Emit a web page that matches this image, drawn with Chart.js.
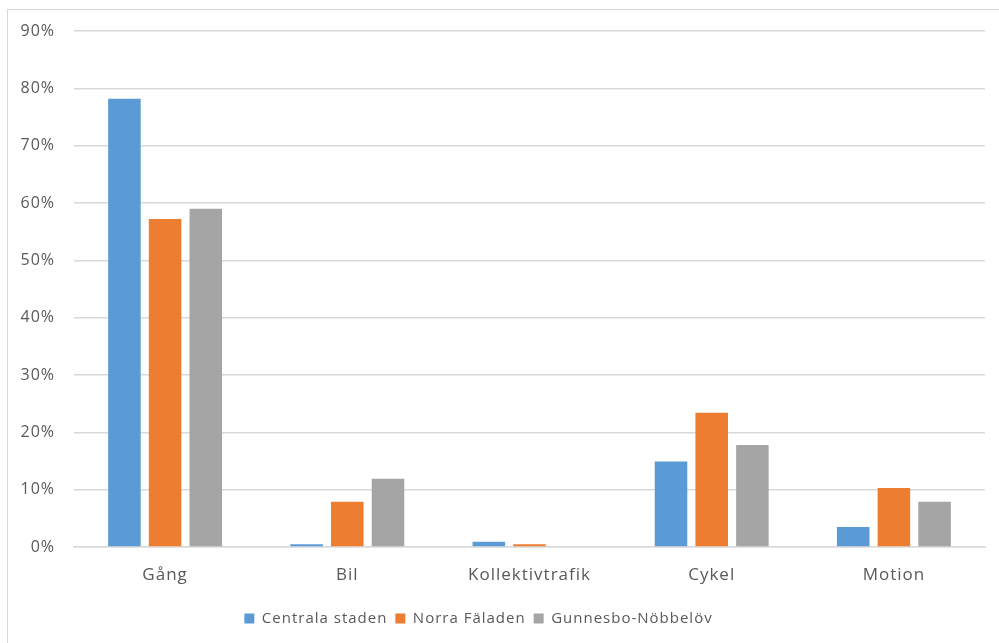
<!DOCTYPE html>
<html>
<head>
<meta charset="utf-8">
<script src="https://cdn.jsdelivr.net/npm/chart.js@4/dist/chart.umd.min.js"></script>
<style>
  html, body { margin: 0; padding: 0; background: #fff; }
  #wrap { position: relative; width: 999px; height: 643px; }
</style>
</head>
<body>
<div id="wrap"><canvas id="myChart" width="999" height="643"></canvas></div>
<script>
// data
const categories = ['Gång', 'Bil', 'Kollektivtrafik', 'Cykel', 'Motion'];
const centralaStaden = [78.2, 0.5, 0.9, 14.9, 3.5];
const norraFaladen = [57.2, 7.9, 0.5, 23.4, 10.3];
const gunnesbo = [59.0, 11.9, 0, 17.8, 7.9];
const yTicks = [0, 10, 20, 30, 40, 50, 60, 70, 80, 90];

const fontFamily = "'Open Sans', 'Liberation Sans', sans-serif";
const textColor = '#595959';

// outer frame like the spreadsheet chart border, plus the wide letter spacing
const framePlugin = {
    id: 'frame',
    beforeLayout(chart) {
        chart.ctx.letterSpacing = '1px';
    },
    afterLayout(chart) {
        // legend in the original sits a little left of centre
        const lg = chart.legend;
        if (lg && !lg._shifted) {
            const orig = lg.draw;
            lg.draw = function(area) {
                const c = this.ctx;
                c.save();
                c.translate(-19, 0);
                orig.call(this, area);
                c.restore();
            };
            lg._shifted = true;
        }
    },
    beforeDraw(chart) {
        const c = chart.ctx;
        c.fillStyle = '#fff';
        c.fillRect(0, 0, chart.width, chart.height);
        c.save();
        c.strokeStyle = '#d9d9d9';
        c.lineWidth = 1;
        c.strokeRect(7.5, 9.5, chart.width - 7, chart.height - 9);
        c.restore();
        c.letterSpacing = '1px';
    }
};

var ctx = document.getElementById('myChart').getContext('2d');
var myChart = new Chart(ctx, {
    type: 'bar',
    data: {
        labels: categories,
        datasets: [{
            label: 'Centrala staden',
            data: centralaStaden,
            backgroundColor: '#5B9BD5'
        }, {
            label: 'Norra Fäladen',
            data: norraFaladen,
            backgroundColor: '#ED7D31'
        }, {
            label: 'Gunnesbo-Nöbbelöv',
            data: gunnesbo,
            backgroundColor: '#A5A5A5'
        }]
    },
    options: {
        responsive: false,
        animation: false,
        layout: {
            padding: { left: 10, right: 14, top: 31, bottom: 7 }
        },
        datasets: {
            bar: {
                categoryPercentage: 0.67,
                barPercentage: 0.8
            }
        },
        plugins: {
            legend: {
                position: 'bottom',
                labels: {
                    boxWidth: 10,
                    boxHeight: 10,
                    padding: 8,
                    color: textColor,
                    font: { family: fontFamily, size: 15 }
                }
            },
            tooltip: { enabled: false }
        },
        scales: {
            x: {
                grid: { display: false },
                border: { display: true, color: '#d9d9d9', width: 1.5 },
                ticks: {
                    color: textColor,
                    padding: 10,
                    font: { family: fontFamily, size: 17 }
                },
                afterFit: function(scale) { scale.height = 56; }
            },
            y: {
                min: 0,
                max: 90,
                afterBuildTicks: function(scale) {
                    scale.ticks = yTicks.map(v => ({ value: v }));
                },
                grid: { color: '#d9d9d9', lineWidth: 1.5, drawTicks: false },
                border: { display: false },
                ticks: {
                    color: textColor,
                    padding: 19,
                    font: { family: fontFamily, size: 16 },
                    callback: function(v) { return v + '%'; }
                },
                afterFit: function(scale) { scale.width = 64; }
            }
        }
    },
    plugins: [framePlugin]
});
</script>
</body>
</html>
